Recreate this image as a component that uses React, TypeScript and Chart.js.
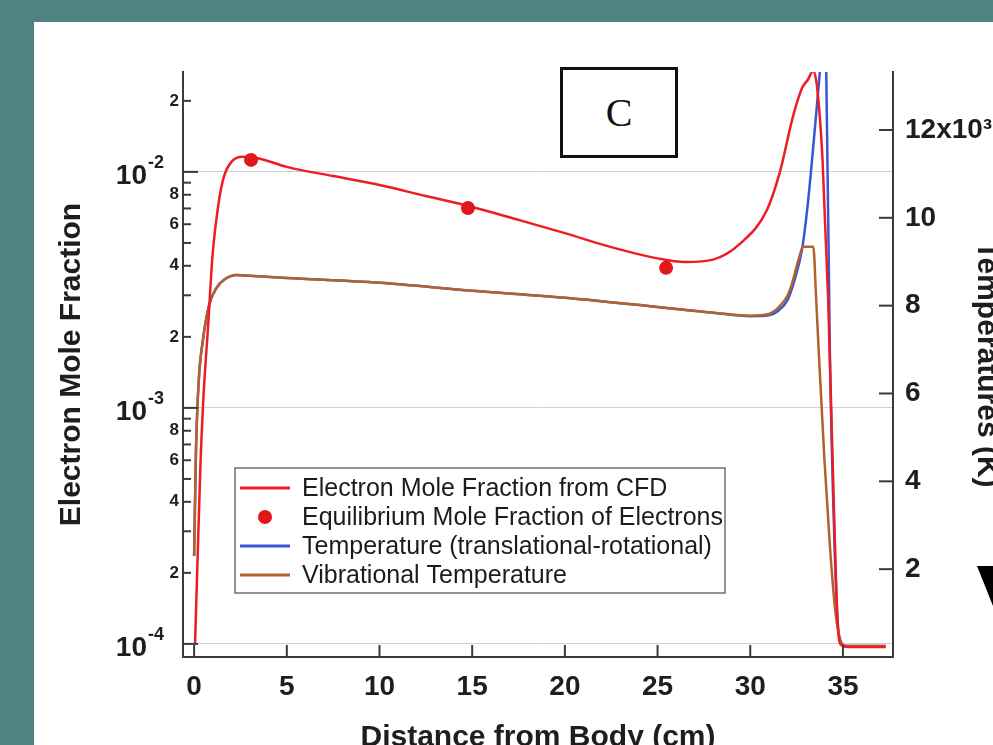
import React, { useEffect, useRef } from 'react';
import { Chart, registerables } from 'chart.js';

Chart.register(...registerables);

// ---------------- data ----------------
const seriesLabels = [
  'Electron Mole Fraction from CFD',
  'Equilibrium Mole Fraction of Electrons',
  'Temperature (translational-rotational)',
  'Vibrational Temperature',
];

// Electron mole fraction from CFD (left, log axis)
const cfdDistance = [0.05, 0.2, 0.35, 0.5, 0.75, 1.0, 1.3, 1.6, 2.0, 2.6, 3.5, 5, 7.5, 10, 12.5, 15, 17.5, 20, 22.5, 25, 26.5, 28, 29.5, 30.9, 31.6, 32.3, 32.8, 33.1, 33.4, 33.6, 33.9, 34.2, 34.5, 34.7, 34.85, 35.3, 36.5, 37.3];
const cfdElectron = [1.0e-4, 2.5e-4, 6.0e-4, 1.1e-3, 2.2e-3, 4.5e-3, 7.2e-3, 9.5e-3, 1.1e-2, 1.16e-2, 1.14e-2, 1.05e-2, 0.96e-2, 0.88e-2, 0.79e-2, 0.71e-2, 0.626e-2, 0.55e-2, 0.48e-2, 0.43e-2, 0.415e-2, 0.425e-2, 0.5e-2, 0.69e-2, 1.0e-2, 1.71e-2, 2.27e-2, 2.45e-2, 2.68e-2, 2.3e-2, 1.12e-2, 2.9e-3, 4.1e-4, 1.3e-4, 1.0e-4, 0.97e-4, 0.97e-4, 0.97e-4];

// Equilibrium electron mole fraction (dots)
const eqDistance = [3.07, 14.77, 25.46];
const eqElectron = [1.124e-2, 7.03e-3, 3.92e-3];

// Translational-rotational temperature (right axis, K)
const trDistance = [0, 0.1, 0.25, 0.47, 0.8, 1.2, 1.65, 2.3, 3, 5, 10, 15, 20, 25, 28, 30, 31, 31.5, 32, 32.4, 32.8, 33.1, 33.5, 33.75, 33.95, 34.1, 34.3, 34.55, 34.75, 34.95, 35.2, 36.5, 37.3];
const trTemperature = [2300, 4700, 6300, 7200, 8000, 8400, 8600, 8700, 8680, 8630, 8520, 8340, 8180, 7970, 7840, 7760, 7780, 7880, 8120, 8600, 9300, 10300, 12100, 13300, 14300, 13300, 6800, 2500, 600, 300, 250, 250, 250];

// Vibrational temperature (right axis, K)
const vibDistance = [0, 0.1, 0.25, 0.47, 0.8, 1.2, 1.65, 2.3, 3, 5, 10, 15, 20, 25, 28, 30, 31, 31.5, 32, 32.2, 32.6, 32.85, 33.4, 33.55, 33.7, 34.0, 34.3, 34.6, 34.85, 35.1, 36.5, 37.3];
const vibTemperature = [2300, 4700, 6300, 7200, 8000, 8400, 8600, 8700, 8680, 8630, 8520, 8340, 8180, 7970, 7840, 7770, 7810, 7950, 8220, 8430, 9040, 9340, 9340, 8200, 6900, 4500, 2500, 1000, 400, 250, 250, 250];

// ticks
const xTicks = [0, 5, 10, 15, 20, 25, 30, 35];
const logDecades = [-4, -3, -2];
const logMantissas = [1, 2, 3, 4, 5, 6, 7, 8, 9];
const labeledMantissas = [2, 4, 6, 8];
const tempTicks = [2000, 4000, 6000, 8000, 10000, 12000];

// axis ranges
const xMin = -0.6;
const xMax = 37.7;
const yLogMin = 0.88e-4;
const yLogMax = 2.65e-2;
const tMin = 0;
const tMax = 13320;

// ---------------- styles ----------------
const TEAL = '#518283';
const AXIS = '#3a3a3a';
const RED = '#ee1d25';
const DOT = '#e3161b';
const BLUE = '#3857d2';
const BROWN = '#b3622d';
const FONT = '"Liberation Sans", Arial, Helvetica, sans-serif';

const W = 1020;
const H = 760;
const AREA = { left: 183, right: 893, top: 72, bottom: 657 };

const leftTickValues: number[] = [];
logDecades.forEach((d) => logMantissas.forEach((m) => {
  const v = m * Math.pow(10, d);
  if (v >= yLogMin && v <= yLogMax) leftTickValues.push(v);
}));

const toPts = (xs: number[], ys: number[]) => xs.map((x, i) => ({ x, y: ys[i] }));

function decadeInfo(v: number) {
  const e = Math.floor(Math.log10(v) + 1e-9);
  const m = Math.round(v / Math.pow(10, e));
  return { e, m };
}

const decorPlugin = {
  id: 'decor',
  afterDraw(chart: any) {
    const { ctx, chartArea: ca, scales } = chart;
    const yl = scales.y;
    const yr = scales.y2;
    const xs = scales.x;
    ctx.save();
    ctx.strokeStyle = AXIS;
    ctx.lineWidth = 2;
    // inward ticks: left log axis
    yl.ticks.forEach((t: any) => {
      const p = yl.getPixelForValue(t.value);
      const { m } = decadeInfo(t.value);
      const len = m === 1 ? 15 : 8;
      ctx.beginPath();
      ctx.moveTo(ca.left, p);
      ctx.lineTo(ca.left + len, p);
      ctx.stroke();
    });
    // right axis
    yr.ticks.forEach((t: any) => {
      const p = yr.getPixelForValue(t.value);
      ctx.beginPath();
      ctx.moveTo(ca.right, p);
      ctx.lineTo(ca.right - 14, p);
      ctx.stroke();
    });
    // x axis
    xs.ticks.forEach((t: any) => {
      const p = xs.getPixelForValue(t.value);
      ctx.beginPath();
      ctx.moveTo(p, ca.bottom);
      ctx.lineTo(p, ca.bottom - 12);
      ctx.stroke();
    });

    // left axis labels (10^n with superscript, minor 2/4/6/8)
    ctx.fillStyle = '#1e1e1e';
    ctx.textBaseline = 'middle';
    yl.ticks.forEach((t: any) => {
      const p = yl.getPixelForValue(t.value);
      const { e, m } = decadeInfo(t.value);
      if (m === 1) {
        ctx.font = `bold 28px ${FONT}`;
        ctx.textAlign = 'right';
        ctx.fillText('10', 147, p + 4);
        ctx.font = `bold 18px ${FONT}`;
        ctx.textAlign = 'left';
        ctx.fillText(String(e), 148, p - 9);
      } else if (labeledMantissas.includes(m)) {
        ctx.font = `bold 17px ${FONT}`;
        ctx.textAlign = 'right';
        ctx.fillText(String(m), 179, p);
      }
    });

    // legend box
    const lx = 235, ly = 468, lw = 490, lh = 125;
    ctx.fillStyle = '#ffffff';
    ctx.fillRect(lx, ly, lw, lh);
    ctx.strokeStyle = '#6f6f6f';
    ctx.lineWidth = 1.5;
    ctx.strokeRect(lx, ly, lw, lh);
    const rows = [488, 517, 546, 575];
    chart.data.datasets.forEach((ds: any, i: number) => {
      const y = rows[ds.legendRow];
      if (ds.showLine === false) {
        ctx.fillStyle = ds.pointBackgroundColor;
        ctx.beginPath();
        ctx.arc(265, y, 7, 0, Math.PI * 2);
        ctx.fill();
      } else {
        ctx.strokeStyle = ds.borderColor;
        ctx.lineWidth = 3;
        ctx.beginPath();
        ctx.moveTo(240, y);
        ctx.lineTo(290, y);
        ctx.stroke();
      }
      ctx.fillStyle = '#1c1c1c';
      ctx.font = `25px ${FONT}`;
      ctx.textAlign = 'left';
      ctx.textBaseline = 'middle';
      ctx.fillText(ds.label, 302, y + 1);
    });
    ctx.restore();
  },
};

export default function App() {
  const ref = useRef<HTMLCanvasElement>(null);

  useEffect(() => {
    document.body.style.margin = '0';
    const canvas = ref.current;
    if (!canvas) return;
    const chart = new Chart(canvas, {
      type: 'line',
      data: {
        datasets: [
          {
            label: seriesLabels[1],
            legendRow: 1,
            data: toPts(eqDistance, eqElectron),
            yAxisID: 'y',
            showLine: false,
            pointRadius: 7,
            pointBackgroundColor: DOT,
            pointBorderWidth: 0,
            borderColor: DOT,
          } as any,
          {
            label: seriesLabels[0],
            legendRow: 0,
            data: toPts(cfdDistance, cfdElectron),
            yAxisID: 'y',
            borderColor: RED,
            borderWidth: 2.5,
            pointRadius: 0,
            cubicInterpolationMode: 'monotone',
          } as any,
          {
            label: seriesLabels[3],
            legendRow: 3,
            data: toPts(vibDistance, vibTemperature),
            yAxisID: 'y2',
            borderColor: BROWN,
            borderWidth: 2.5,
            pointRadius: 0,
            cubicInterpolationMode: 'monotone',
          } as any,
          {
            label: seriesLabels[2],
            legendRow: 2,
            data: toPts(trDistance, trTemperature),
            yAxisID: 'y2',
            borderColor: BLUE,
            borderWidth: 2.5,
            pointRadius: 0,
            cubicInterpolationMode: 'monotone',
          } as any,
        ],
      },
      options: {
        animation: false,
        responsive: false,
        devicePixelRatio: 1,
        layout: { padding: { top: AREA.top, left: 0, right: 0, bottom: 0 } },
        plugins: { legend: { display: false }, tooltip: { enabled: false } },
        scales: {
          x: {
            type: 'linear',
            position: 'bottom',
            min: xMin,
            max: xMax,
            afterBuildTicks: (s: any) => { s.ticks = xTicks.map((v) => ({ value: v })); },
            afterFit: (s: any) => { s.height = H - AREA.bottom; },
            grid: { display: false, drawTicks: false },
            border: { display: true, color: AXIS, width: 2 },
            ticks: {
              autoSkip: false,
              maxRotation: 0,
              padding: 13,
              color: '#1e1e1e',
              font: { family: FONT, size: 28, weight: 'bold' },
            },
            title: {
              display: true,
              text: 'Distance from Body (cm)',
              color: '#1e1e1e',
              font: { family: FONT, size: 30, weight: 'bold' },
              padding: { top: 0, bottom: 4 },
            },
          },
          y: {
            type: 'logarithmic',
            position: 'left',
            min: yLogMin,
            max: yLogMax,
            afterBuildTicks: (s: any) => { s.ticks = leftTickValues.map((v) => ({ value: v })); },
            afterFit: (s: any) => { s.width = AREA.left; },
            grid: {
              display: true,
              drawOnChartArea: true,
              drawTicks: false,
              lineWidth: 1,
              color: (c: any) => (c.tick && decadeInfo(c.tick.value).m === 1 ? '#cfcfcf' : 'rgba(0,0,0,0)'),
            },
            border: { display: true, color: AXIS, width: 2 },
            ticks: { display: false },
            title: {
              display: true,
              text: 'Electron Mole Fraction',
              color: '#1e1e1e',
              font: { family: FONT, size: 30, weight: 'bold' },
              padding: { top: 54, bottom: 0 },
            },
          },
          y2: {
            type: 'linear',
            position: 'right',
            min: tMin,
            max: tMax,
            afterBuildTicks: (s: any) => { s.ticks = tempTicks.map((v) => ({ value: v })); },
            afterFit: (s: any) => { s.width = W - AREA.right; },
            grid: { display: false, drawTicks: false },
            border: { display: true, color: AXIS, width: 2 },
            ticks: {
              padding: 12,
              color: '#1e1e1e',
              font: { family: FONT, size: 28, weight: 'bold' },
              callback: (v: any) => (v === 12000 ? '12x10\u00b3' : String(v / 1000)),
            },
            title: {
              display: true,
              text: 'Temperatures (K)',
              color: '#1e1e1e',
              font: { family: FONT, size: 30, weight: 'bold' },
              padding: { top: 16, bottom: 0 },
            },
          },
        },
      } as any,
      plugins: [decorPlugin],
    });
    return () => chart.destroy();
  }, []);

  return (
    <div style={{ position: 'fixed', left: 0, top: 0, width: 993, height: 745, overflow: 'hidden', background: TEAL }}>
      <div style={{ position: 'absolute', left: 34, top: 22, width: 993 - 34, height: 745 - 22, background: '#ffffff' }} />
      <canvas ref={ref} width={W} height={H} style={{ position: 'absolute', left: 0, top: 0, width: W, height: H }} />
      <div
        style={{
          position: 'absolute', left: 560, top: 67, width: 118, height: 91, boxSizing: 'border-box',
          border: '3px solid #111', background: '#fff', display: 'flex', alignItems: 'center', justifyContent: 'center',
          fontFamily: '"Liberation Serif", "Times New Roman", serif', fontSize: 40, color: '#111',
        }}
      >
        C
      </div>
      <div
        style={{
          position: 'absolute', left: 977, top: 566, width: 36, height: 45, background: '#000',
          clipPath: 'polygon(0 0, 100% 0, 50% 100%)',
        }}
      />
    </div>
  );
}
